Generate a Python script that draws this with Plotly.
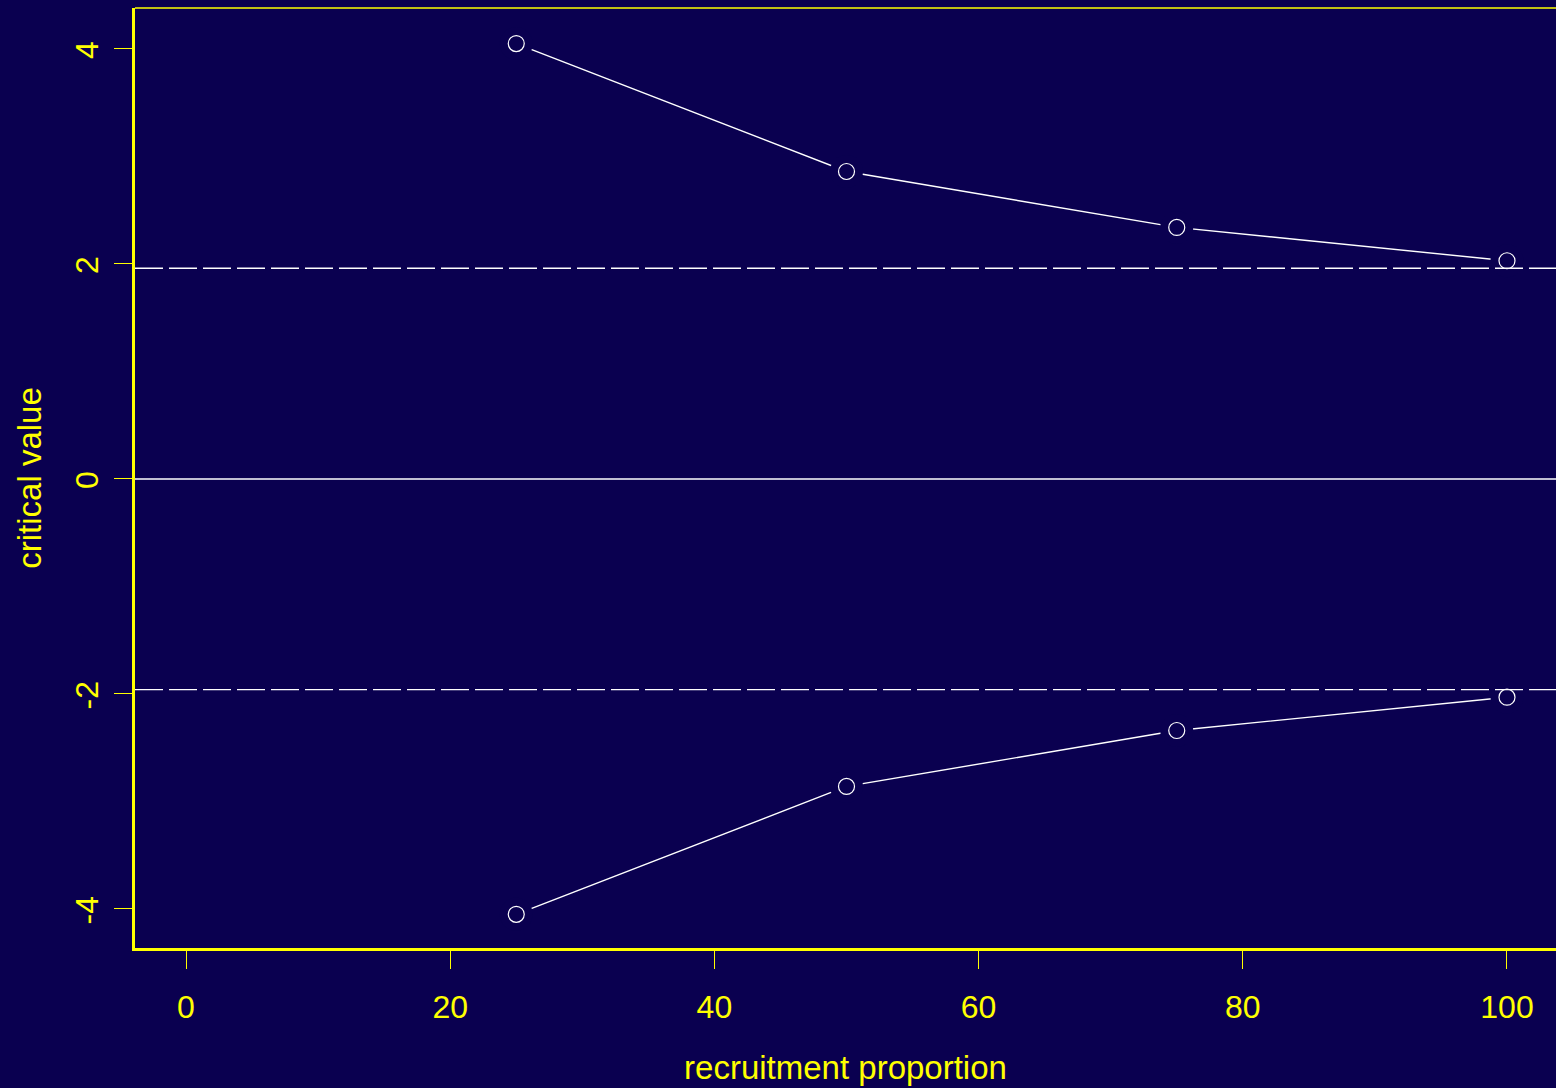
import plotly.graph_objects as go

# ---- data ----
recruitment = [25, 50, 75, 100]
upper_bound = [4.05, 2.86, 2.34, 2.03]
lower_bound = [-4.05, -2.86, -2.34, -2.03]
reference_levels = [1.96, -1.96]
zero_level = 0
x_ticks = [0, 20, 40, 60, 80, 100]
y_ticks = [-4, -2, 0, 2, 4]

BG = "#0a0050"
YEL = "#ffff00"
WHITE = "#ffffff"
FONT = "Liberation Sans, Arial, sans-serif"

fig = go.Figure()

for series in (upper_bound, lower_bound):
    # connecting line
    fig.add_trace(go.Scatter(x=recruitment, y=series, mode="lines",
                             line=dict(color=WHITE, width=1.4),
                             hoverinfo="skip", showlegend=False))
    # gap around points (R type="b")
    fig.add_trace(go.Scatter(x=recruitment, y=series, mode="markers",
                             marker=dict(size=33, color=BG, line=dict(width=0)),
                             hoverinfo="skip", showlegend=False))
    # open circles
    fig.add_trace(go.Scatter(x=recruitment, y=series, mode="markers",
                             marker=dict(size=16, color="rgba(0,0,0,0)",
                                         line=dict(color=WHITE, width=1.2)),
                             showlegend=False))

# reference lines drawn on top
fig.add_hline(y=zero_level, line=dict(color=WHITE, width=1.4), layer="above")
for lvl in reference_levels:
    fig.add_hline(y=lvl, line=dict(color=WHITE, width=1.4, dash="28px,6px"),
                  layer="above")

# thin top border of the box
fig.add_shape(type="line", xref="paper", yref="paper", x0=0, x1=1, y0=1, y1=1,
              line=dict(color=YEL, width=1.6), layer="above")

fig.update_layout(
    width=1556, height=1088,
    paper_bgcolor=BG, plot_bgcolor=BG,
    margin=dict(l=135, r=0, t=8, b=140),
    font=dict(family=FONT, color=YEL, size=33),
    showlegend=False,
)

fig.update_xaxes(
    range=[-3.861, 103.71], tickvals=x_ticks, ticktext=[str(v) for v in x_ticks],
    showgrid=False, zeroline=False,
    showline=True, linecolor=YEL, linewidth=3,
    ticks="outside", ticklen=18, tickwidth=1, tickcolor=YEL,
    tickfont=dict(size=32, color=YEL, family=FONT),
    ticklabelstandoff=11,
    title=dict(text="recruitment proportion", font=dict(size=33, color=YEL, family=FONT),
               standoff=32),
)
fig.update_yaxes(
    range=[-4.363, 4.381], tickvals=y_ticks, ticktext=[str(v) for v in y_ticks],
    showgrid=False, zeroline=False,
    showline=True, linecolor=YEL, linewidth=3,
    ticks="outside", ticklen=18, tickwidth=1, tickcolor=YEL,
    tickangle=-90,
    tickfont=dict(size=32, color=YEL, family=FONT),
    ticklabelstandoff=3,
    ticklabelshift=6,
    title=dict(text="critical value", font=dict(size=33, color=YEL, family=FONT),
               standoff=18),
)

fig.write_html("out.html", config={"displayModeBar": False},
               post_script="document.body.style.margin='0';document.body.style.background='#0a0050';")
